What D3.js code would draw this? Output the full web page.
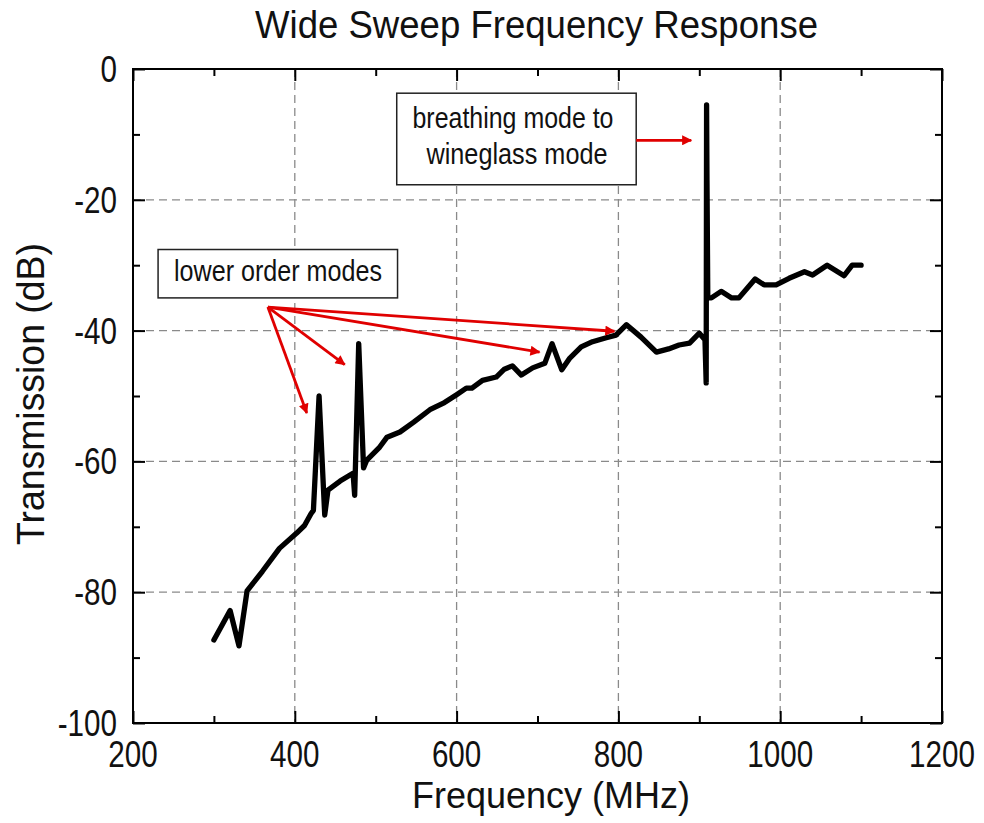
<!DOCTYPE html>
<html>
<head>
<meta charset="utf-8">
<script src="https://cdn.jsdelivr.net/npm/d3@7"></script>
<style>
  html, body { margin: 0; padding: 0; background: #fff; }
  svg { display: block; font-family: "Liberation Sans", Arial, sans-serif; }
</style>
</head>
<body>
<svg id="chart" width="984" height="823"></svg>
<script>
// ---- data ----
const freq = [300,320,331,341,360,381,402,412,420,423,430,437,441,456,472,474,479,485,489,505,514,530,547,567,585,600,612,619,632,649,659,669,680,694,709,718,730,740,754,768,785,797,810,828,847,862,875,888,900,907,908.5,909,909.5,910.5,915,927,940,949,969,980,995,1011,1030,1040,1058,1079,1089,1100];
const transmission = [-87.3,-82.8,-88.2,-79.8,-76.8,-73.3,-71,-69.8,-68,-67.5,-50,-68.2,-64.4,-63,-61.8,-65.2,-42,-61,-59.8,-57.8,-56.3,-55.5,-54,-52.1,-51,-49.8,-48.8,-48.8,-47.6,-47.1,-45.9,-45.4,-46.8,-45.7,-45,-42,-46,-44.2,-42.5,-41.7,-41.1,-40.7,-39.1,-41,-43.3,-42.8,-42.2,-41.9,-40.4,-41.4,-48,-5.5,-17,-35,-35,-34,-35,-35,-32.1,-33,-33,-32,-31,-31.5,-30,-31.6,-30,-30];
const xTicks = [200,400,600,800,1000,1200];
const yTicks = [0,-20,-40,-60,-80,-100];
const xMinor = [300,500,700,900,1100];
const yMinor = [-10,-30,-50,-70,-90];
const xGrid = [400,600,800,1000];
const yGrid = [-20,-40,-60,-80];
const title = "Wide Sweep Frequency Response";
const xLabel = "Frequency (MHz)";
const yLabel = "Transmission (dB)";
const lowerLabel = "lower order modes";
const lowerOrigin = [366.7,-36.4];
const lowerTargets = [[414.8,-52.6],[461.7,-45.2],[702.5,-43.3],[795,-40.1]];
const breathLines = ["breathing mode to","wineglass mode"];
const breathArrow = [[822,-10.9],[890,-10.9]];

// ---- layout ----
const svg = d3.select("#chart");
const L = 133, R = 942, T = 69, B = 723;
const x = d3.scaleLinear().domain([200,1200]).range([L,R]);
const y = d3.scaleLinear().domain([-100,0]).range([B,T]);

// grid
const g = svg.append("g");
g.selectAll(".gx").data(xGrid).join("line")
  .attr("x1", d=>x(d)).attr("x2", d=>x(d)).attr("y1", T).attr("y2", B)
  .attr("stroke", "#8a8a8a").attr("stroke-width", 1.3).attr("stroke-dasharray", "8,5");
g.selectAll(".gy").data(yGrid).join("line")
  .attr("y1", d=>y(d)).attr("y2", d=>y(d)).attr("x1", L).attr("x2", R)
  .attr("stroke", "#8a8a8a").attr("stroke-width", 1.3).attr("stroke-dasharray", "8,5");

// axes with inward ticks
function tickAxis(axisGen, tr) {
  const a = svg.append("g").attr("transform", tr).call(axisGen);
  a.select(".domain").remove();
  a.selectAll("text").remove();
  a.selectAll("line").attr("stroke", "#000").attr("stroke-width", 2);
  return a;
}
tickAxis(d3.axisBottom(x).tickValues(xTicks).tickSize(-12), `translate(0,${B})`);
tickAxis(d3.axisBottom(x).tickValues(xMinor).tickSize(-7), `translate(0,${B})`);
tickAxis(d3.axisTop(x).tickValues(xTicks).tickSize(-12), `translate(0,${T})`);
tickAxis(d3.axisTop(x).tickValues(xMinor).tickSize(-7), `translate(0,${T})`);
tickAxis(d3.axisLeft(y).tickValues(yTicks).tickSize(-12), `translate(${L},0)`);
tickAxis(d3.axisLeft(y).tickValues(yMinor).tickSize(-7), `translate(${L},0)`);
tickAxis(d3.axisRight(y).tickValues(yTicks).tickSize(-12), `translate(${R},0)`);
tickAxis(d3.axisRight(y).tickValues(yMinor).tickSize(-7), `translate(${R},0)`);

// frame
svg.append("rect").attr("x", L).attr("y", T).attr("width", R-L).attr("height", B-T)
  .attr("fill", "none").attr("stroke", "#000").attr("stroke-width", 2);

// condensed text helper
function ctext(parent, str, px, py, size, sx, anchor) {
  return parent.append("text")
    .attr("transform", `translate(${px},${py}) scale(${sx},1)`)
    .attr("text-anchor", anchor || "middle")
    .attr("font-size", size).attr("fill", "#111").text(str);
}

// tick labels
xTicks.forEach(d => ctext(svg, String(d), x(d), 767, 37, 0.8, "middle"));
yTicks.forEach(d => ctext(svg, String(d), 117, y(d) + 13, 37, 0.8, "end"));

// titles
svg.append("text").attr("x", 536.5).attr("y", 38).attr("text-anchor", "middle")
  .attr("font-size", 39).attr("fill", "#111")
  .attr("textLength", 563).attr("lengthAdjust", "spacingAndGlyphs").text(title);
ctext(svg, xLabel, 551, 808, 36, 1.0, "middle");
svg.append("text")
  .attr("transform", `translate(44,394) rotate(-90)`)
  .attr("text-anchor", "middle").attr("font-size", 38).attr("fill", "#111")
  .attr("textLength", 302).attr("lengthAdjust", "spacingAndGlyphs")
  .text(yLabel);

// curve
const line = d3.line().x((d,i)=>x(freq[i])).y((d,i)=>y(transmission[i]));
svg.append("path").datum(transmission).attr("d", line)
  .attr("fill", "none").attr("stroke", "#000").attr("stroke-width", 5.3)
  .attr("stroke-linejoin", "round").attr("stroke-linecap", "round");

// arrow marker
svg.append("defs").append("marker").attr("id", "ah")
  .attr("viewBox", "0 0 10 10").attr("refX", 9).attr("refY", 5)
  .attr("markerWidth", 4.5).attr("markerHeight", 3.6).attr("orient", "auto")
  .attr("markerUnits", "strokeWidth")
  .append("path").attr("d", "M0,0 L10,5 L0,10 z").attr("fill", "#e00000");

// annotations: lower order modes
const box1 = [231,-27.6,527,-35.0];
svg.append("rect").attr("x", x(box1[0])).attr("y", y(box1[1]))
  .attr("width", x(box1[2]) - x(box1[0])).attr("height", y(box1[3]) - y(box1[1]))
  .attr("fill", "#fff").attr("stroke", "#222").attr("stroke-width", 1.5);
svg.append("text").attr("x", 278).attr("y", 281).attr("text-anchor", "middle")
  .attr("font-size", 29).attr("fill", "#111")
  .attr("textLength", 208).attr("lengthAdjust", "spacingAndGlyphs").text(lowerLabel);
lowerTargets.forEach(t => {
  svg.append("line")
    .attr("x1", x(lowerOrigin[0])).attr("y1", y(lowerOrigin[1]))
    .attr("x2", x(t[0])).attr("y2", y(t[1]))
    .attr("stroke", "#e00000").attr("stroke-width", 2.8).attr("marker-end", "url(#ah)");
});

// breathing mode box
const box2 = [526,-3.7,822,-17.7];
svg.append("rect").attr("x", x(box2[0])).attr("y", y(box2[1]))
  .attr("width", x(box2[2]) - x(box2[0])).attr("height", y(box2[3]) - y(box2[1]))
  .attr("fill", "#fff").attr("stroke", "#222").attr("stroke-width", 1.5);
svg.append("text").attr("x", 513).attr("y", 128).attr("text-anchor", "middle")
  .attr("font-size", 29).attr("fill", "#111")
  .attr("textLength", 201).attr("lengthAdjust", "spacingAndGlyphs").text(breathLines[0]);
svg.append("text").attr("x", 517).attr("y", 164).attr("text-anchor", "middle")
  .attr("font-size", 29).attr("fill", "#111")
  .attr("textLength", 181).attr("lengthAdjust", "spacingAndGlyphs").text(breathLines[1]);
svg.append("line")
  .attr("x1", x(breathArrow[0][0])).attr("y1", y(breathArrow[0][1]))
  .attr("x2", x(breathArrow[1][0])).attr("y2", y(breathArrow[1][1]))
  .attr("stroke", "#e00000").attr("stroke-width", 2.8).attr("marker-end", "url(#ah)");
</script>
</body>
</html>
